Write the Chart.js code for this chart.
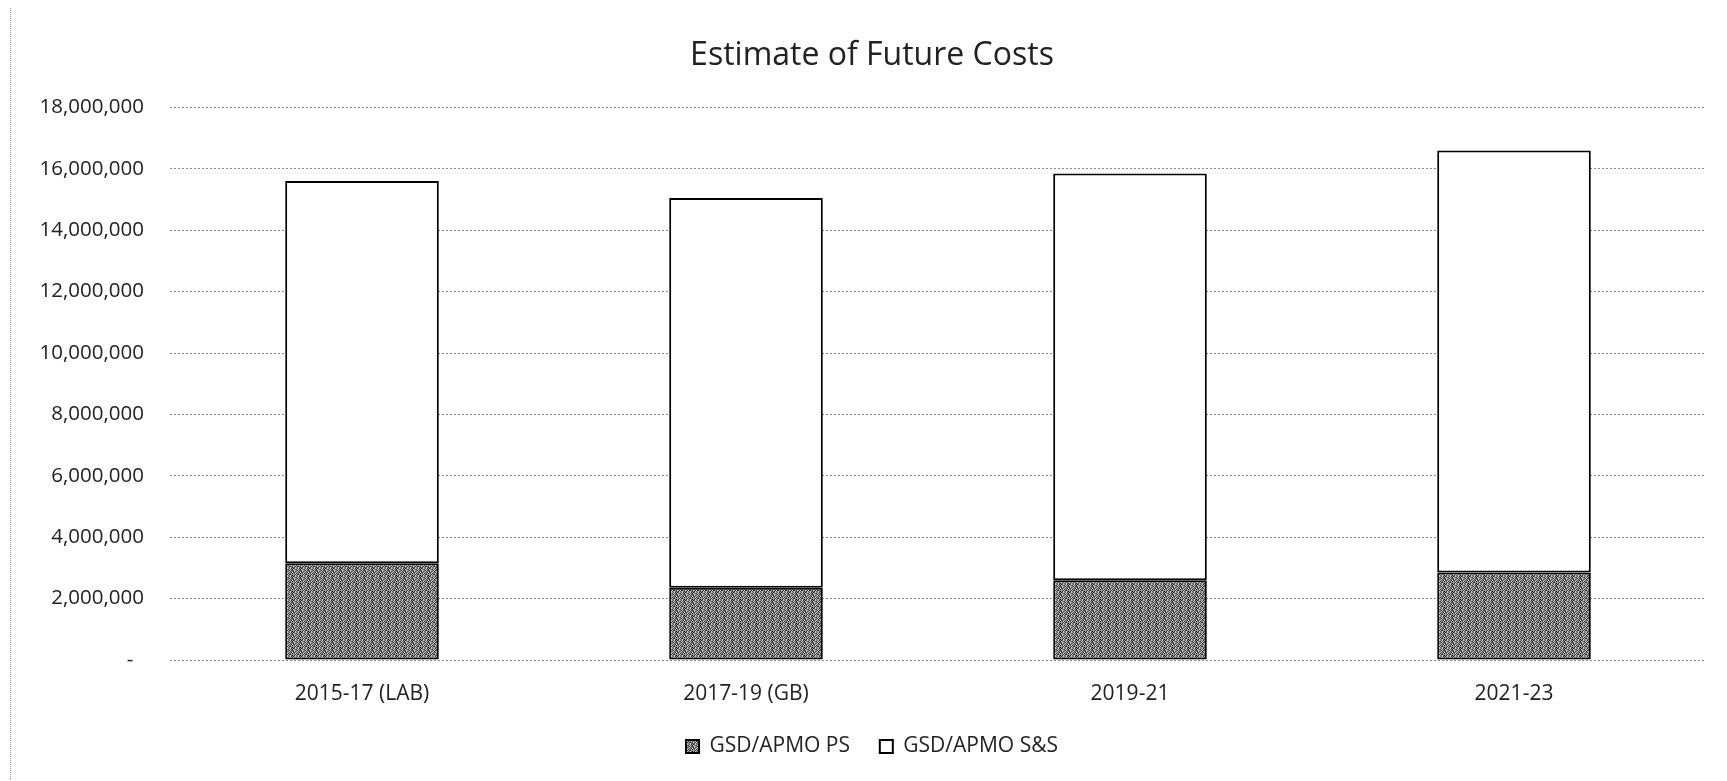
<!DOCTYPE html>
<html>
<head>
<meta charset="utf-8">
<script src="https://cdn.jsdelivr.net/npm/chart.js@4.4.1/dist/chart.umd.min.js"></script>
<style>
    html, body { margin: 0; padding: 0; background: #fff; }
    #wrap { position: relative; width: 1727px; height: 781px; }
    #wrap::before {
        content: ''; position: absolute; left: 10px; top: 8px; bottom: 2px;
        border-left: 1px dotted #9a9a9a;
    }
</style>
</head>
<body>
<div id="wrap"><canvas id="chartFutureCosts" width="1727" height="781"></canvas></div>
<script>
const periods = ['2015-17 (LAB)', '2017-19 (GB)', '2019-21', '2021-23'];
const psValues = [3150000, 2350000, 2600000, 2850000];
const ssValues = [12450000, 12700000, 13250000, 13750000];
const yTicks = [0, 2000000, 4000000, 6000000, 8000000, 10000000, 12000000, 14000000, 16000000, 18000000];

// grainy dark-gray fill for the PS segment (fixed dither, 8x8 tile)
function makeGrain() {
    const c = document.createElement('canvas');
    c.width = 8; c.height = 8;
    const g = c.getContext('2d');
    const tile = [
        '21302013',
        '03120321',
        '20310132',
        '13022031',
        '31203102',
        '02130213',
        '30021320',
        '12310203'
    ];
    const shades = ['#262626', '#5e5e5e', '#939393', '#d2d2d2'];
    for (let y = 0; y < 8; y++) {
        for (let x = 0; x < 8; x++) {
            g.fillStyle = shades[+tile[y][x]];
            g.fillRect(x, y, 1, 1);
        }
    }
    return g.createPattern(c, 'repeat');
}

const ctx = document.getElementById('chartFutureCosts').getContext('2d');
const grain = makeGrain();
const font = "'Open Sans', 'Noto Sans', sans-serif";

new Chart(ctx, {
    type: 'bar',
    data: {
        labels: periods,
        datasets: [{
            label: 'GSD/APMO PS',
            data: psValues,
            backgroundColor: grain,
            borderColor: '#000',
            borderWidth: 2,
            borderSkipped: false
        }, {
            label: 'GSD/APMO S&S',
            data: ssValues,
            backgroundColor: '#fff',
            borderColor: '#000',
            borderWidth: 2,
            borderSkipped: false
        }]
    },
    options: {
        responsive: false,
        animation: false,
        layout: { padding: { left: 38, right: 21, top: 0, bottom: 14 } },
        datasets: {
            bar: { categoryPercentage: 1, barPercentage: 0.4 }
        },
        plugins: {
            title: {
                display: true,
                text: 'Estimate of Future Costs',
                color: '#222',
                font: { family: font, size: 32, weight: 'normal' },
                padding: { top: 37, bottom: 32 }
            },
            legend: {
                display: true,
                position: 'bottom',
                labels: {
                    color: '#222',
                    font: { family: font, size: 21 },
                    boxWidth: 13,
                    boxHeight: 13,
                    padding: 8,
                    // wider gap after the first entry
                    generateLabels: (chart) => {
                        const items = Chart.defaults.plugins.legend.labels.generateLabels(chart);
                        items[0].text += '    ';
                        return items;
                    }
                }
            },
            tooltip: { enabled: false }
        },
        scales: {
            x: {
                stacked: true,
                grid: { display: false },
                border: { display: false },
                ticks: {
                    color: '#222',
                    font: { family: font, size: 21 },
                    padding: 13
                },
                afterFit: (scale) => { scale.height = 68; }
            },
            y: {
                stacked: true,
                min: 0,
                max: 18000000,
                afterBuildTicks: (scale) => { scale.ticks = yTicks.map(v => ({ value: v })); },
                grid: {
                    color: '#8c8c8c',
                    lineWidth: 1,
                    drawTicks: false
                },
                border: { display: false, dash: [2, 2] },
                ticks: {
                    color: '#222',
                    font: { family: font, size: 20.5 },
                    padding: 26,
                    callback: (v) => v === 0 ? '-  ' : v.toLocaleString('en-US')
                },
                afterFit: (scale) => { scale.width = 132; }
            }
        }
    }
});
</script>
</body>
</html>
